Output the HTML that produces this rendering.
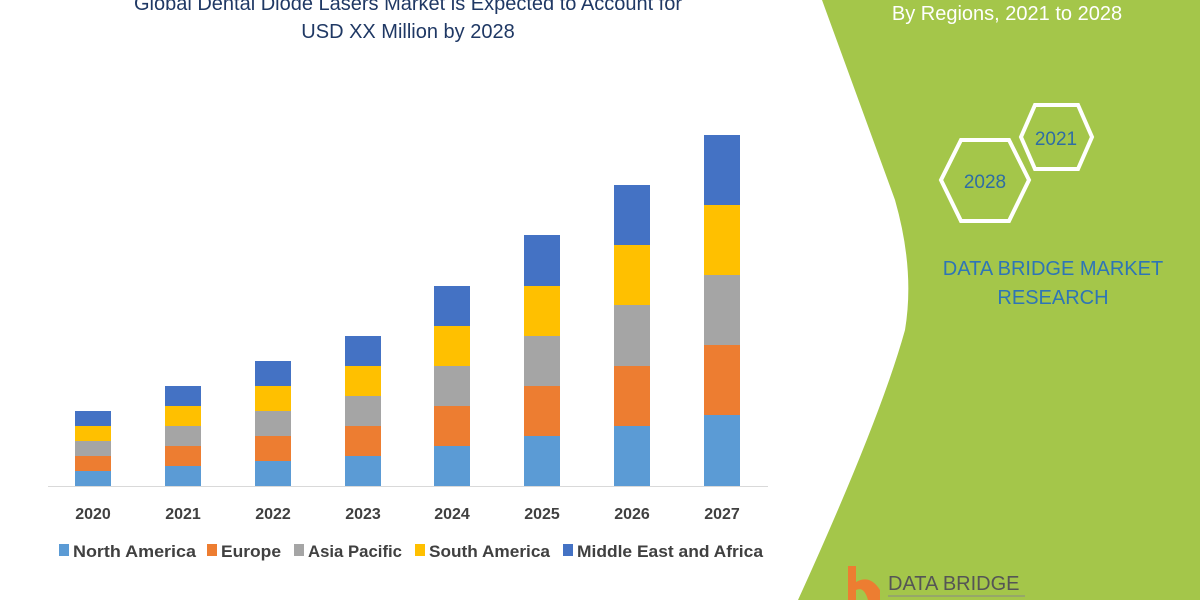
<!DOCTYPE html>
<html><head><style>
body{margin:0;width:1200px;height:600px;overflow:hidden;background:#fff;font-family:"Liberation Sans",sans-serif}
</style></head><body>
<svg width="1200" height="600" viewBox="0 0 1200 600" xmlns="http://www.w3.org/2000/svg" font-family="Liberation Sans, sans-serif">
<rect width="1200" height="600" fill="#fff"/>
<path d="M822 0 L1200 0 L1200 600 L798 600 Q880 420 905 330 Q915 270 895 200 Z" fill="#a4c64a"/>
<text x="408" y="10" text-anchor="middle" font-size="20" fill="#1f3864">Global Dental Diode Lasers Market is Expected to Account for</text>
<text x="408" y="38" text-anchor="middle" font-size="20" fill="#1f3864">USD XX Million by 2028</text>
<text x="1007" y="20" text-anchor="middle" font-size="20" fill="#fff">By Regions, 2021 to 2028</text>
<polygon points="1035,105 1078,105 1092,137 1078,169 1035,169 1021,137" fill="none" stroke="#fff" stroke-width="4"/>
<text x="1056" y="145" text-anchor="middle" font-size="19" fill="#2e6da4">2021</text>
<polygon points="961,140 1009,140 1029,180 1009,221 961,221 941,180" fill="none" stroke="#fff" stroke-width="4"/>
<text x="985" y="188" text-anchor="middle" font-size="19" fill="#2e6da4">2028</text>
<text x="1053" y="275" text-anchor="middle" font-size="20" fill="#2e75b6">DATA BRIDGE MARKET</text>
<text x="1053" y="304" text-anchor="middle" font-size="20" fill="#2e75b6">RESEARCH</text>
<path d="M848 566 L856 566 L856 582 Q870 574 880 590 L880 600 L868 600 Q864 586 856 590 L856 600 L848 600 Z" fill="#ed7d31"/>
<text x="888" y="590" font-size="20" fill="#555">DATA BRIDGE</text>
<line x1="888" y1="596" x2="1025" y2="596" stroke="#888" stroke-width="1"/>
<line x1="48" y1="486.5" x2="768" y2="486.5" stroke="#d9d9d9" stroke-width="1"/>
<g font-size="16" font-weight="bold" fill="#404040" text-anchor="middle">
<text x="93" y="519">2020</text><text x="183" y="519">2021</text><text x="273" y="519">2022</text><text x="363" y="519">2023</text>
<text x="452" y="519">2024</text><text x="542" y="519">2025</text><text x="632" y="519">2026</text><text x="722" y="519">2027</text>
</g>
<g font-size="17" font-weight="bold" fill="#404040">
<rect x="59" y="544" width="10" height="12" fill="#5b9bd5"/><text x="73" y="557" textLength="123" lengthAdjust="spacingAndGlyphs">North America</text>
<rect x="207" y="544" width="10" height="12" fill="#ed7d31"/><text x="221" y="557" textLength="60" lengthAdjust="spacingAndGlyphs">Europe</text>
<rect x="294" y="544" width="10" height="12" fill="#a5a5a5"/><text x="308" y="557" textLength="94" lengthAdjust="spacingAndGlyphs">Asia Pacific</text>
<rect x="415" y="544" width="10" height="12" fill="#ffc000"/><text x="429" y="557" textLength="121" lengthAdjust="spacingAndGlyphs">South America</text>
<rect x="563" y="544" width="10" height="12" fill="#4472c4"/><text x="577" y="557" textLength="186" lengthAdjust="spacingAndGlyphs">Middle East and Africa</text>
</g>
<g>
<rect x="75" y="471" width="36" height="15" fill="#5b9bd5"/><rect x="75" y="456" width="36" height="15" fill="#ed7d31"/><rect x="75" y="441" width="36" height="15" fill="#a5a5a5"/><rect x="75" y="426" width="36" height="15" fill="#ffc000"/><rect x="75" y="411" width="36" height="15" fill="#4472c4"/>
<rect x="165" y="466" width="36" height="20" fill="#5b9bd5"/><rect x="165" y="446" width="36" height="20" fill="#ed7d31"/><rect x="165" y="426" width="36" height="20" fill="#a5a5a5"/><rect x="165" y="406" width="36" height="20" fill="#ffc000"/><rect x="165" y="386" width="36" height="20" fill="#4472c4"/>
<rect x="255" y="461" width="36" height="25" fill="#5b9bd5"/><rect x="255" y="436" width="36" height="25" fill="#ed7d31"/><rect x="255" y="411" width="36" height="25" fill="#a5a5a5"/><rect x="255" y="386" width="36" height="25" fill="#ffc000"/><rect x="255" y="361" width="36" height="25" fill="#4472c4"/>
<rect x="345" y="456" width="36" height="30" fill="#5b9bd5"/><rect x="345" y="426" width="36" height="30" fill="#ed7d31"/><rect x="345" y="396" width="36" height="30" fill="#a5a5a5"/><rect x="345" y="366" width="36" height="30" fill="#ffc000"/><rect x="345" y="336" width="36" height="30" fill="#4472c4"/>
<rect x="434" y="446" width="36" height="40" fill="#5b9bd5"/><rect x="434" y="406" width="36" height="40" fill="#ed7d31"/><rect x="434" y="366" width="36" height="40" fill="#a5a5a5"/><rect x="434" y="326" width="36" height="40" fill="#ffc000"/><rect x="434" y="286" width="36" height="40" fill="#4472c4"/>
<rect x="524" y="436" width="36" height="50" fill="#5b9bd5"/><rect x="524" y="386" width="36" height="50" fill="#ed7d31"/><rect x="524" y="336" width="36" height="50" fill="#a5a5a5"/><rect x="524" y="286" width="36" height="50" fill="#ffc000"/><rect x="524" y="235" width="36" height="51" fill="#4472c4"/>
<rect x="614" y="426" width="36" height="60" fill="#5b9bd5"/><rect x="614" y="366" width="36" height="60" fill="#ed7d31"/><rect x="614" y="305" width="36" height="61" fill="#a5a5a5"/><rect x="614" y="245" width="36" height="60" fill="#ffc000"/><rect x="614" y="185" width="36" height="60" fill="#4472c4"/>
<rect x="704" y="415" width="36" height="71" fill="#5b9bd5"/><rect x="704" y="345" width="36" height="70" fill="#ed7d31"/><rect x="704" y="275" width="36" height="70" fill="#a5a5a5"/><rect x="704" y="205" width="36" height="70" fill="#ffc000"/><rect x="704" y="135" width="36" height="70" fill="#4472c4"/>
</g>
</svg>
</body></html>
